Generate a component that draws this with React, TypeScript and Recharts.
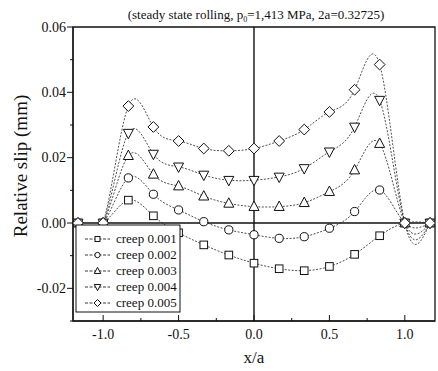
import { LineChart, Line, XAxis, YAxis, ReferenceLine, ReferenceArea } from 'recharts';

// x/a positions of the computed points
const xPositions = [-1.167, -1.0, -0.833, -0.667, -0.5, -0.333, -0.167, 0.0, 0.167, 0.333, 0.5, 0.667, 0.833, 1.0, 1.167];

// relative slip (mm) per creep value
const creep001 = [0, 0, 0.007, 0.0022, -0.003, -0.0067, -0.0098, -0.0123, -0.014, -0.0146, -0.0133, -0.0096, -0.0039, 0, 0];
const creep002 = [0, 0, 0.0138, 0.0088, 0.004, 0.0004, -0.0021, -0.0036, -0.0047, -0.0042, -0.0016, 0.0035, 0.0101, 0, 0];
const creep003 = [0, 0, 0.0206, 0.0149, 0.0113, 0.0082, 0.006, 0.005, 0.005, 0.0062, 0.0096, 0.0162, 0.0243, 0, 0];
const creep004 = [0, 0, 0.0275, 0.0211, 0.0172, 0.0147, 0.0131, 0.0131, 0.0141, 0.0167, 0.0218, 0.0294, 0.0376, 0, 0];
const creep005 = [0, 0, 0.0358, 0.0294, 0.0251, 0.0228, 0.0221, 0.0228, 0.0251, 0.0286, 0.034, 0.0408, 0.0485, 0, 0];

const xTicks = [-1.0, -0.75, -0.5, -0.25, 0, 0.25, 0.5, 0.75, 1.0];
const yTicks = [-0.03, -0.02, -0.01, 0, 0.01, 0.02, 0.03, 0.04, 0.05, 0.06];

type Shape = 'square' | 'circle' | 'triangle' | 'triangleDown' | 'diamond';

const series: { key: string; name: string; shape: Shape; values: number[] }[] = [
  { key: 'c1', name: 'creep 0.001', shape: 'square', values: creep001 },
  { key: 'c2', name: 'creep 0.002', shape: 'circle', values: creep002 },
  { key: 'c3', name: 'creep 0.003', shape: 'triangle', values: creep003 },
  { key: 'c4', name: 'creep 0.004', shape: 'triangleDown', values: creep004 },
  { key: 'c5', name: 'creep 0.005', shape: 'diamond', values: creep005 },
];

const data = xPositions.map((x, i) => {
  const row: Record<string, number> = { x };
  series.forEach((s) => {
    row[s.key] = s.values[i];
  });
  return row;
});

const FONT = 'Liberation Serif';
const INK = '#111';

function Marker({ shape, cx, cy, k = 1 }: { shape: Shape; cx: number; cy: number; k?: number }) {
  const common = { fill: '#fff', stroke: INK, strokeWidth: 1 };
  if (shape === 'square') {
    const h = 3.8 * k;
    return <rect x={cx - h} y={cy - h} width={2 * h} height={2 * h} {...common} />;
  }
  if (shape === 'circle') {
    return <circle cx={cx} cy={cy} r={4.1 * k} {...common} />;
  }
  if (shape === 'triangle') {
    const w = 5 * k;
    return <polygon points={`${cx},${cy - 5.6 * k} ${cx - w},${cy + 3.8 * k} ${cx + w},${cy + 3.8 * k}`} {...common} />;
  }
  if (shape === 'triangleDown') {
    const w = 5 * k;
    return <polygon points={`${cx},${cy + 5.6 * k} ${cx - w},${cy - 3.8 * k} ${cx + w},${cy - 3.8 * k}`} {...common} />;
  }
  const d = 5.4 * k;
  return <polygon points={`${cx},${cy - d} ${cx + d},${cy} ${cx},${cy + d} ${cx - d},${cy}`} {...common} />;
}

const makeDot = (shape: Shape) => (props: any) => {
  const { cx, cy, index } = props;
  return <Marker key={`${shape}-${index}`} shape={shape} cx={cx} cy={cy} />;
};

const isMajor = (v: number, step: number) => Math.abs(Math.round(v / step) * step - v) < 1e-9;

function XTick(props: any) {
  const { x, y, payload } = props;
  const v = payload.value as number;
  const major = isMajor(v, 0.5);
  return (
    <g>
      <line x1={x} x2={x} y1={y} y2={y - (major ? 6 : 3)} stroke={INK} strokeWidth={1} />
      {major && (
        <text x={x} y={y + 18} textAnchor="middle" fontFamily={FONT} fontSize={14} fill={INK}>
          {v.toFixed(1)}
        </text>
      )}
    </g>
  );
}

function YTick(props: any) {
  const { x, y, payload } = props;
  const v = payload.value as number;
  const major = isMajor(v, 0.02);
  return (
    <g>
      <line x1={x} x2={x - (major ? 6 : 3)} y1={y} y2={y} stroke={INK} strokeWidth={1} />
      {major && (
        <text x={x - 7} y={y + 4.5} textAnchor="end" fontFamily={FONT} fontSize={14} fill={INK}>
          {v.toFixed(2)}
        </text>
      )}
    </g>
  );
}

export default function App() {
  return (
    <div style={{ position: 'absolute', left: 0, top: 0, width: 438, height: 371, background: '#fff' }}>
      <LineChart width={438} height={371} data={data} margin={{ top: 27, right: 3, bottom: 0, left: 0 }}>
        <XAxis
          dataKey="x"
          type="number"
          domain={[-1.2, 1.2]}
          ticks={xTicks}
          interval={0}
          height={50}
          tickSize={0}
          tickMargin={0}
          tickLine={false}
          tick={<XTick />}
          axisLine={{ stroke: INK, strokeWidth: 1.2 }}
          allowDataOverflow
        />
        <YAxis
          type="number"
          domain={[-0.03, 0.06]}
          ticks={yTicks}
          interval={0}
          width={73}
          tickSize={0}
          tickMargin={0}
          tickLine={false}
          tick={<YTick />}
          axisLine={{ stroke: INK, strokeWidth: 1.2 }}
          allowDataOverflow
        />
        <ReferenceArea x1={-1.2} x2={1.2} y1={-0.03} y2={0.06} fill="none" stroke={INK} strokeWidth={1.3} />
        <ReferenceLine y={0} stroke={INK} strokeWidth={1.6} />
        <ReferenceLine x={0} stroke={INK} strokeWidth={1.4} />
        {series.map((s) => (
          <Line
            key={s.key}
            dataKey={s.key}
            name={s.name}
            type="natural"
            stroke="#222"
            strokeWidth={0.8}
            strokeDasharray="2 1.5"
            dot={makeDot(s.shape)}
            activeDot={false}
            isAnimationActive={false}
          />
        ))}
      </LineChart>
      <svg
        width={438}
        height={371}
        style={{ position: 'absolute', left: 0, top: 0, pointerEvents: 'none' }}
      >
        <text x={256} y={19} textAnchor="middle" fontFamily={FONT} fontSize={13} fill={INK}>
          (steady state rolling, p
          <tspan fontSize={8} dy={3}>0</tspan>
          <tspan dy={-3}>=1,413 MPa, 2a=0.32725)</tspan>
        </text>
        <text
          x={27}
          y={166}
          transform="rotate(-90 27 166)"
          textAnchor="middle"
          fontFamily={FONT}
          fontSize={19}
          fill={INK}
        >
          Relative slip (mm)
        </text>
        <text x={254} y={363} textAnchor="middle" fontFamily={FONT} fontSize={17} fill={INK}>
          x/a
        </text>
        <rect x={76} y={225} width={104} height={87} fill="#fff" stroke={INK} strokeWidth={1} />
        {series.map((s, i) => {
          const cy = 239 + i * 16;
          return (
            <g key={s.key}>
              <line x1={85} x2={110} y1={cy} y2={cy} stroke="#222" strokeWidth={0.9} strokeDasharray="3 1.5" />
              <Marker shape={s.shape} cx={97.5} cy={cy} k={0.65} />
              <text x={116} y={cy + 4} fontFamily={FONT} fontSize={13} fill={INK}>
                {s.name}
              </text>
            </g>
          );
        })}
      </svg>
    </div>
  );
}
